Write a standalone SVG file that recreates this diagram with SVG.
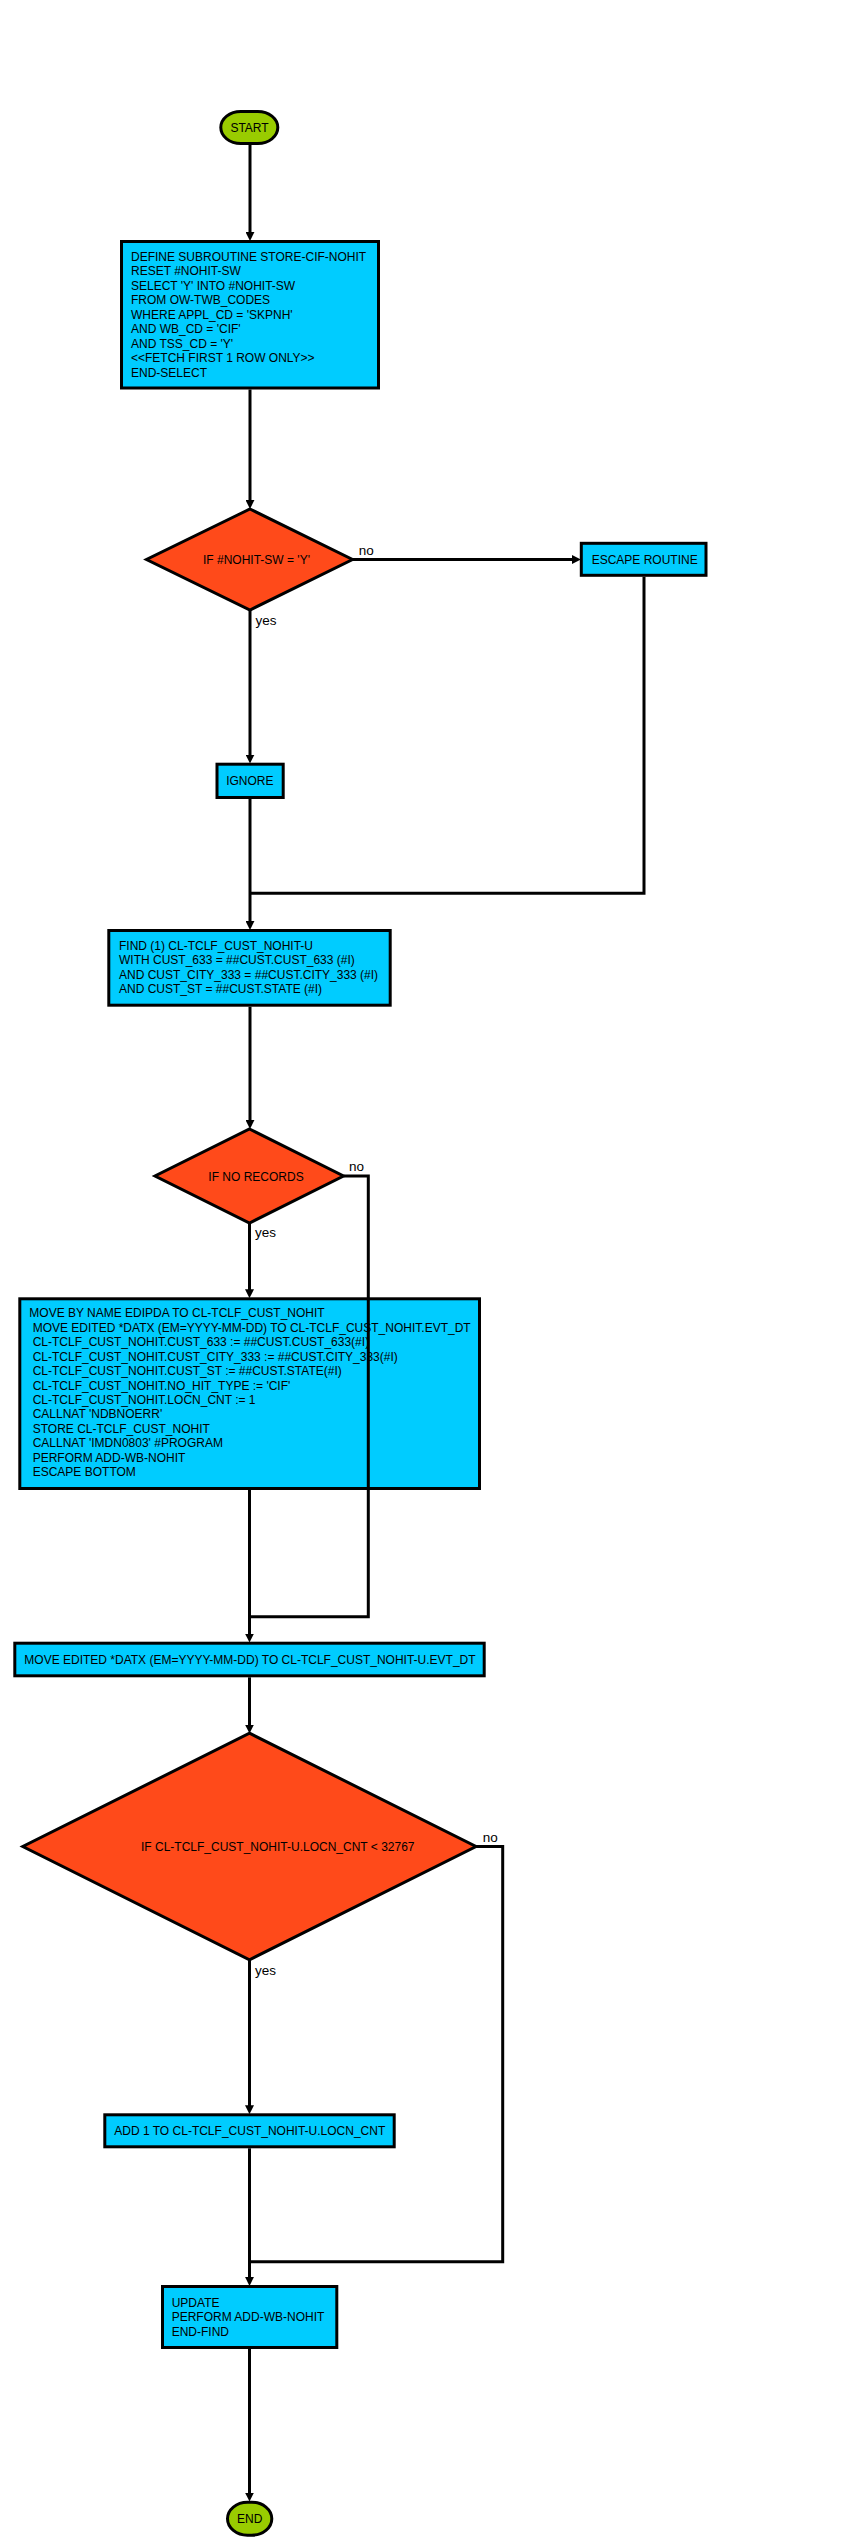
<svg xmlns="http://www.w3.org/2000/svg" width="844" height="2547" viewBox="0 0 844 2547">
<style>
text{font-family:"Liberation Sans",Arial,sans-serif;font-size:12px;fill:#000}
.lbl{font-size:13.5px}
.op{fill:#00ccff;stroke:#000;stroke-width:3}
.cond{fill:#ff4a1a;stroke:#000;stroke-width:3}
.term{fill:#99cc00;stroke:#000;stroke-width:3}
.ln{fill:none;stroke:#000;stroke-width:3}
.arr{marker-end:url(#ah)}
</style>
<defs>
<marker id="ah" markerUnits="userSpaceOnUse" markerWidth="9" markerHeight="9" viewBox="0 0 8 8" refX="1" refY="4" orient="auto">
<path d="M0,0 L8,4 L0,8 z" fill="#000"/>
</marker>
</defs>
<rect width="844" height="2547" fill="#fff"/>

<g id="start">
<rect class="term" x="220.8" y="111.5" width="57" height="32" rx="20" ry="16"/>
<text x="249.5" y="132" text-anchor="middle">START</text>
</g>

<g id="op1">
<rect class="op" x="121.5" y="241.5" width="257" height="146.5"/>
<text x="131" y="260.5">DEFINE SUBROUTINE STORE-CIF-NOHIT</text>
<text x="131" y="275">RESET #NOHIT-SW</text>
<text x="131" y="289.5">SELECT 'Y' INTO #NOHIT-SW</text>
<text x="131" y="304">FROM OW-TWB_CODES</text>
<text x="131" y="318.5">WHERE APPL_CD = 'SKPNH'</text>
<text x="131" y="333">AND WB_CD = 'CIF'</text>
<text x="131" y="347.5">AND TSS_CD = 'Y'</text>
<text x="131" y="362">&lt;&lt;FETCH FIRST 1 ROW ONLY&gt;&gt;</text>
<text x="131" y="376.5">END-SELECT</text>
</g>

<g id="cond1">
<polygon class="cond" points="250,509 352.5,559.5 250,610 146.5,559.5"/>
<text x="203" y="564">IF #NOHIT-SW = 'Y'</text>
</g>

<g id="escape">
<rect class="op" x="581.3" y="543.3" width="124.7" height="32"/>
<text x="591.7" y="564">ESCAPE ROUTINE</text>
</g>

<g id="ignore">
<rect class="op" x="217" y="764.2" width="66.2" height="33.3"/>
<text x="226.2" y="785">IGNORE</text>
</g>

<g id="find">
<rect class="op" x="108.8" y="930.5" width="281.4" height="74.7"/>
<text x="119" y="950">FIND (1) CL-TCLF_CUST_NOHIT-U</text>
<text x="119" y="964.4">WITH CUST_633 = ##CUST.CUST_633 (#I)</text>
<text x="119" y="978.8">AND CUST_CITY_333 = ##CUST.CITY_333 (#I)</text>
<text x="119" y="993.2">AND CUST_ST = ##CUST.STATE (#I)</text>
</g>

<g id="cond2">
<polygon class="cond" points="249.5,1129 343.5,1176 249.5,1223 155,1176"/>
<text x="208.3" y="1180.5">IF NO RECORDS</text>
</g>

<g id="store">
<rect class="op" x="19.8" y="1298.8" width="459.7" height="189.7"/>
<text x="29.3" y="1317.3">MOVE BY NAME EDIPDA TO CL-TCLF_CUST_NOHIT</text>
<text x="32.7" y="1331.75">MOVE EDITED *DATX (EM=YYYY-MM-DD) TO CL-TCLF_CUST_NOHIT.EVT_DT</text>
<text x="32.7" y="1346.2">CL-TCLF_CUST_NOHIT.CUST_633 := ##CUST.CUST_633(#I)</text>
<text x="32.7" y="1360.65">CL-TCLF_CUST_NOHIT.CUST_CITY_333 := ##CUST.CITY_333(#I)</text>
<text x="32.7" y="1375.1">CL-TCLF_CUST_NOHIT.CUST_ST := ##CUST.STATE(#I)</text>
<text x="32.7" y="1389.55">CL-TCLF_CUST_NOHIT.NO_HIT_TYPE := 'CIF'</text>
<text x="32.7" y="1404">CL-TCLF_CUST_NOHIT.LOCN_CNT := 1</text>
<text x="32.7" y="1418.45">CALLNAT 'NDBNOERR'</text>
<text x="32.7" y="1432.9">STORE CL-TCLF_CUST_NOHIT</text>
<text x="32.7" y="1447.35">CALLNAT 'IMDN0803' #PROGRAM</text>
<text x="32.7" y="1461.8">PERFORM ADD-WB-NOHIT</text>
<text x="32.7" y="1476.25">ESCAPE BOTTOM</text>
</g>

<g id="moveevt">
<rect class="op" x="14.8" y="1643.2" width="469.4" height="32.6"/>
<text x="24.3" y="1664">MOVE EDITED *DATX (EM=YYYY-MM-DD) TO CL-TCLF_CUST_NOHIT-U.EVT_DT</text>
</g>

<g id="cond3">
<polygon class="cond" points="249.5,1733.2 476,1846.5 249.5,1959.8 22.8,1846.5"/>
<text x="141" y="1851">IF CL-TCLF_CUST_NOHIT-U.LOCN_CNT &lt; 32767</text>
</g>

<g id="add">
<rect class="op" x="104.8" y="2114.8" width="289.4" height="32"/>
<text x="114.3" y="2135">ADD 1 TO CL-TCLF_CUST_NOHIT-U.LOCN_CNT</text>
</g>

<g id="update">
<rect class="op" x="162.5" y="2286.5" width="174.3" height="61"/>
<text x="171.7" y="2306.7">UPDATE</text>
<text x="171.7" y="2321.2">PERFORM ADD-WB-NOHIT</text>
<text x="171.7" y="2335.7">END-FIND</text>
</g>

<g id="end">
<rect class="term" x="227.5" y="2502.2" width="44.3" height="33" rx="20" ry="16.5"/>
<text x="249.65" y="2523" text-anchor="middle">END</text>
</g>

<g id="connectors">
<path class="ln arr" d="M250,145 V233"/>
<path class="ln arr" d="M250,389.5 V501"/>
<path class="ln arr" d="M352.5,559.5 H573"/>
<text class="lbl" x="358.8" y="555">no</text>
<path class="ln arr" d="M250,610 V755.7"/>
<text class="lbl" x="255.5" y="624.5">yes</text>
<path class="ln arr" d="M250,799 V922"/>
<path class="ln" d="M644,576.7 V893.3 H250"/>
<path class="ln arr" d="M250,1006.7 V1121"/>
<path class="ln arr" d="M249.5,1223 V1290.3"/>
<text class="lbl" x="255" y="1237.3">yes</text>
<path class="ln" d="M343.5,1176 H368.3 V1616.7 H249.5"/>
<text class="lbl" x="349" y="1170.5">no</text>
<path class="ln arr" d="M249.5,1490 V1634.7"/>
<path class="ln arr" d="M249.5,1677.3 V1725.7"/>
<path class="ln arr" d="M249.5,1959.8 V2106.3"/>
<text class="lbl" x="255" y="1975">yes</text>
<path class="ln" d="M476,1846.5 H502.7 V2261.7 H249.5"/>
<text class="lbl" x="482.7" y="1841.5">no</text>
<path class="ln arr" d="M249.5,2148.3 V2278"/>
<path class="ln arr" d="M249.5,2349 V2493.7"/>
</g>
</svg>
